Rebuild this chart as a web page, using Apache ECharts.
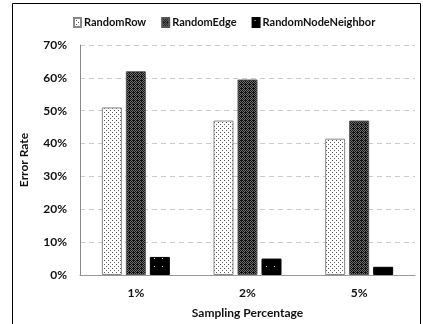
<!DOCTYPE html>
<html><head><meta charset="utf-8">
<script src="https://cdn.jsdelivr.net/npm/echarts@6/dist/echarts.min.js"></script>
<style>html,body{margin:0;padding:0;background:#fff}#c{width:423px;height:324px}</style>
</head><body><div id="c"></div>
<script>
const categories = ['1%', '2%', '5%'];
const seriesNames = ['RandomRow', 'RandomEdge', 'RandomNodeNeighbor'];
const randomRow = [51, 47, 41.5];
const randomEdge = [62, 59.5, 47];
const randomNodeNeighbor = [5.5, 5, 2.5];
const yTicks = [0, 10, 20, 30, 40, 50, 60, 70];

function pattern(bg, fg, cells, size) {
  const c = document.createElement('canvas');
  c.width = size; c.height = size;
  const g = c.getContext('2d');
  g.fillStyle = bg; g.fillRect(0, 0, size, size);
  g.fillStyle = fg;
  cells.forEach(p => g.fillRect(p[0], p[1], 1, 1));
  return { image: c, repeat: 'repeat' };
}
const rowPat = pattern('#ffffff', '#555555', [[0,0],[2,2]], 4);
const edgePat = pattern('#6e6e6e', '#111111', [[0,0],[2,0],[1,1],[3,1],[0,2],[2,2],[1,3],[3,3],[1,0]], 4);
const nnPat = pattern('#000000', '#cfcfcf', [[2,2]], 8);
const pats = [rowPat, edgePat, nnPat];
const datas = [randomRow, randomEdge, randomNodeNeighbor];
const font = 'Lato';

const chart = echarts.init(document.getElementById('c'));
chart.setOption({
  animation: false,
  backgroundColor: '#fff',
  graphic: [{ type: 'rect', shape: { x: 12.5, y: 3.5, width: 408, height: 330 }, style: { fill: 'none', stroke: '#000', lineWidth: 1 }, silent: true }],
  legend: {
    top: 12, left: 68, itemWidth: 7, itemHeight: 9, itemGap: 15, icon: 'rect',
    textStyle: { fontFamily: font, fontWeight: 'bold', fontSize: 11, color: '#111', padding: [0, 0, 0, -2] },
    data: seriesNames
  },
  grid: { left: 80, right: 8, top: 45, bottom: 45 },
  xAxis: {
    type: 'category', data: categories,
    name: 'Sampling Percentage', nameLocation: 'middle', nameGap: 32,
    nameTextStyle: { fontFamily: font, fontWeight: 'bold', fontSize: 12, color: '#111' },
    axisLine: { lineStyle: { color: '#999' } }, axisTick: { show: false },
    axisLabel: { fontFamily: font, fontWeight: 'bold', fontSize: 12, color: '#111', margin: 12 }
  },
  yAxis: {
    type: 'value', min: yTicks[0], max: yTicks[yTicks.length - 1], interval: 10,
    name: 'Error Rate', nameLocation: 'middle', nameGap: 50,
    nameTextStyle: { fontFamily: font, fontWeight: 'bold', fontSize: 12, color: '#111' },
    axisLine: { show: true, lineStyle: { color: '#888' } },
    axisLabel: { fontFamily: font, fontWeight: 'bold', fontSize: 12, color: '#111', margin: 13, formatter: v => v + '%' },
    splitLine: { lineStyle: { color: '#ccc', type: [5, 4] } }
  },
  series: seriesNames.map((n, i) => ({
    name: n, type: 'bar', data: datas[i], barWidth: 20, barGap: '20%',
    itemStyle: { color: pats[i], borderColor: i === 0 ? '#888' : (i === 1 ? '#555' : '#000'), borderWidth: 1 }
  }))
});
</script></body></html>
